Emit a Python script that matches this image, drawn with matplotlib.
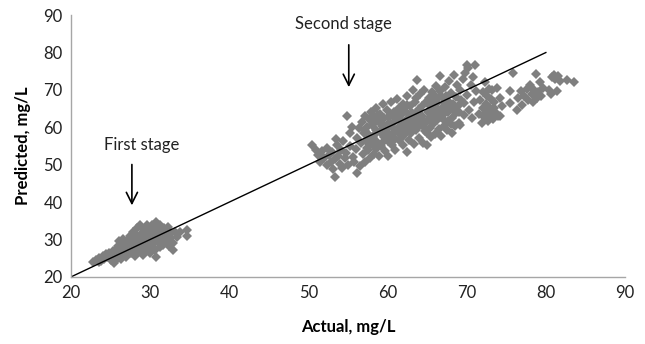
import matplotlib
matplotlib.use('Agg')
import matplotlib.pyplot as plt

plt.rcParams['font.family'] = ['Lato', 'DejaVu Sans']

# first stage points (actual, predicted)
first_x = [22.8, 23.2, 23.5, 23.8, 24.0, 23.6, 24.2, 24.4,
           24.6, 24.8, 25.0, 25.2, 25.3, 25.5, 25.6, 25.8, 25.9, 26.0, 26.1, 26.2,
           26.3, 26.5, 26.6, 26.7, 26.9, 27.0, 27.1, 27.2, 27.4, 27.5, 27.6, 27.7, 27.8, 27.9, 28.0, 28.1,
           28.2, 28.3, 28.4, 28.5, 28.6, 28.7, 28.8, 28.9, 29.0, 29.1, 29.2, 29.3, 29.4, 29.5, 29.6, 29.7,
           29.8, 29.9, 30.0, 30.0,
           30.2, 30.3, 30.4, 30.5, 30.6, 30.7, 30.8, 30.9, 31.0, 31.1, 31.2, 31.3, 31.4, 31.5, 31.6, 31.7,
           31.8, 31.9, 32.0,
           32.1, 32.3, 32.4, 32.5, 32.7, 32.9, 33.1, 33.4, 33.8, 34.6, 34.6, 32.9, 30.8,
           24.3, 24.9, 25.4, 25.7, 26.4, 26.8, 27.3, 27.8, 28.3, 28.8, 29.3, 29.8, 30.3, 30.8, 31.3,
           31.8, 26.0, 26.9, 27.6, 28.5, 29.0, 29.6, 30.1, 30.6, 31.2, 31.7, 32.2, 25.1, 27.0, 28.0]
first_y = [24.1, 24.5, 25.0, 24.3, 25.6, 23.9, 24.8, 26.0,
           25.2, 26.5, 24.4, 25.8, 27.0, 23.8, 26.2, 27.5, 25.0, 28.3, 29.6, 26.8,
           24.9, 27.9, 30.2, 26.0, 28.8, 25.3, 29.5, 27.2, 31.0, 28.1, 26.3, 30.3, 32.0, 27.5, 29.0, 25.6,
           31.2, 33.0, 28.3, 26.8, 30.0, 33.9, 29.3, 27.4, 31.8, 25.9, 32.6, 28.6, 30.6, 27.0, 33.9, 29.7,
           31.4, 28.0, 32.8, 26.4,
           30.2, 34.0, 28.9, 31.7, 27.3, 33.2, 34.8, 29.6, 30.9, 32.4, 27.9, 33.8, 29.0, 31.6, 28.5, 33.1,
           30.3, 32.0, 29.3,
           31.1, 33.4, 28.2, 30.5, 31.7, 29.0, 32.1, 30.8, 32.1, 32.6, 31.0, 27.2, 25.4,
           25.3, 25.7, 26.4, 25.5, 27.0, 27.4, 28.0, 28.8, 29.6, 30.5, 31.3, 30.6, 31.9, 32.3, 31.0,
           31.0, 26.1, 26.6, 29.2, 27.8, 28.6, 29.0, 29.2, 30.0, 29.7, 30.0, 30.2, 24.8, 28.1, 30.5]

# second stage points (actual, predicted)
second_x = [50.4, 50.9, 51.2, 51.5, 51.7, 52.0, 52.3, 52.4, 52.6, 52.8, 53.0, 53.1, 53.3, 53.4, 53.5,
            53.6, 53.8, 54.0, 54.1, 54.3, 54.4, 54.6, 54.8, 54.9, 55.0, 55.2, 55.3, 55.5, 55.6, 55.8,
            56.0, 56.1, 56.2, 56.4, 56.5,
            56.7, 56.8, 56.9, 57.0, 57.1, 57.2, 57.3, 57.4, 57.5, 57.6, 57.7, 57.8, 57.9, 58.0, 58.1,
            58.2, 58.3, 58.4, 58.5, 58.6, 58.7, 58.8, 58.9, 59.0, 59.1, 59.2, 59.3, 59.4, 59.5, 59.6,
            59.7, 59.8, 59.9, 60.0, 60.0, 60.1, 60.2, 60.3, 60.4, 60.5, 60.6, 60.7, 60.8, 60.9, 61.0,
            61.1, 61.2, 61.3, 61.4, 61.5, 61.6, 61.7, 61.8, 61.9, 62.0, 62.0,
            62.1, 62.2, 62.3, 62.4, 62.5, 62.6, 62.7, 62.8, 62.9, 63.0, 63.1, 63.2, 63.3, 63.4, 63.5,
            63.6, 63.7, 63.8, 63.9, 64.0, 64.1, 64.2, 64.3, 64.4, 64.5, 64.6, 64.7, 64.8, 64.9, 65.0,
            65.1, 65.2, 65.3, 65.4, 65.5, 65.6, 65.7, 65.8, 65.9, 66.0, 66.1, 66.2, 66.3, 66.4, 66.5,
            66.6, 66.7, 66.8, 66.9, 67.0, 67.1, 67.2, 67.3, 67.5, 67.6, 67.7, 67.8, 67.9, 68.0, 68.1,
            68.2, 68.3, 68.4, 68.5, 68.6, 68.7, 68.8, 68.9, 69.0, 69.2, 69.2, 69.3, 69.5, 69.6, 69.7,
            69.8, 70.0, 70.1, 70.2, 70.3, 70.5, 70.7, 70.8, 70.9, 71.1, 71.2,
            71.6, 71.7, 71.9, 72.0, 72.1, 72.2, 72.3, 72.4, 72.5, 72.6, 72.7, 72.8, 72.9, 73.0, 73.1,
            73.2, 73.3, 73.4, 73.5, 73.6, 73.8, 73.9, 74.2, 74.2, 74.5,
            75.5, 75.5, 75.9, 76.3, 76.5, 76.8, 77.0, 77.3, 77.6, 77.8, 78.0, 78.2, 78.4, 78.5, 78.7,
            78.9, 79.0, 79.2, 79.4, 79.7, 80.4, 80.6, 80.8, 81.0, 81.2, 81.4, 81.5, 81.8, 82.7, 83.5,
            57.2, 57.6, 58.0, 58.4, 58.8, 59.2, 59.6, 60.0, 60.4, 60.8, 61.2, 61.6, 62.0, 62.4, 62.8,
            63.2, 63.6, 64.0, 64.4, 64.8, 65.2, 65.6, 66.0, 66.4, 66.8, 67.2, 67.6, 68.0,
            57.4, 57.9, 58.6, 59.0, 59.4, 59.8, 60.2, 60.6, 61.0, 61.4, 61.8, 62.2, 62.6, 63.0, 63.4,
            63.8, 64.2, 64.6, 65.0, 65.4, 65.8, 66.2, 66.6, 67.0, 67.4, 67.8, 68.4, 69.0]
second_y = [55.3, 54.0, 52.5, 50.8, 53.6, 51.7, 49.9, 54.5, 52.6, 50.6, 53.4, 48.9, 51.4, 46.8, 57.0,
            55.2, 52.4, 50.1, 54.0, 49.0, 56.4, 51.8, 53.2, 62.9, 49.8, 58.5, 55.0, 60.0, 52.0, 50.6,
            54.2, 47.7, 57.2, 59.8, 49.6,
            55.8, 61.5, 52.9, 58.6, 63.0, 50.8, 56.4, 60.2, 53.9, 62.1, 58.0, 51.9, 64.2, 55.5, 60.9,
            57.3, 53.0, 62.8, 59.4, 65.3, 56.2, 61.6, 52.4, 58.7, 63.6, 55.0, 60.3, 66.2, 57.4, 62.4,
            53.8, 59.6, 64.7, 56.3, 61.0, 52.2, 58.2, 63.1, 66.8, 55.2, 60.0, 57.3, 64.0, 61.7, 54.0,
            59.1, 67.5, 62.6, 56.5, 65.2, 60.4, 58.0, 63.5, 55.4, 66.3, 61.4,
            57.9, 64.4, 59.9, 53.5, 68.4, 62.5, 56.6, 65.6, 60.8, 58.5, 63.7, 70.0, 61.8, 55.6, 66.7,
            59.3, 72.7, 64.5, 62.3, 57.2, 68.8, 60.5, 65.6, 63.0, 55.8, 70.1, 58.9, 66.9, 61.5, 55.3,
            64.1, 67.9, 59.9, 62.8, 57.4, 69.4, 65.2, 60.9, 63.6, 58.3, 71.0, 66.5, 61.9, 64.6, 59.5,
            73.6, 62.8, 57.6, 68.2, 65.4, 60.4, 70.7, 63.7, 59.3, 67.0, 61.8, 72.3, 64.9, 69.3, 58.6,
            62.6, 66.2, 74.1, 60.3, 68.0, 63.9, 71.2, 65.7, 61.2, 60.6, 70.0, 67.3, 72.8, 66.5, 63.2,
            74.6, 76.7, 68.6, 75.8, 64.6, 71.2, 62.4, 73.4, 66.9, 76.7, 69.8,
            63.5, 67.4, 61.1, 65.3, 69.5, 62.7, 72.2, 66.3, 64.0, 68.4, 61.8, 70.3, 65.1, 63.1, 67.6,
            69.9, 62.3, 65.2, 66.8, 64.1, 70.6, 62.9, 67.9, 62.9, 65.6,
            69.6, 66.5, 74.5, 64.7, 67.8, 69.6, 66.0, 68.5, 70.3, 67.2, 71.3, 68.9, 66.8, 70.0, 74.3,
            67.8, 69.4, 72.0, 68.4, 70.6, 70.0, 68.8, 73.4, 74.0, 72.9, 69.8, 73.6, 72.5, 72.7, 72.0,
            59.0, 57.2, 60.5, 58.3, 63.2, 61.4, 59.1, 62.7, 60.9, 58.7, 63.9, 61.9, 59.8, 66.0, 63.4,
            60.1, 67.8, 65.0, 61.6, 59.6, 65.9, 62.0, 68.5, 67.8, 64.2, 66.5, 64.2, 61.0,
            54.5, 56.8, 54.2, 61.9, 56.2, 57.8, 60.7, 63.2, 56.9, 59.6, 57.3, 61.0, 58.9, 61.4, 63.6,
            60.3, 62.4, 61.0, 58.4, 64.0, 67.0, 63.1, 69.8, 62.2, 68.4, 66.0, 64.9, 64.1]

# 1:1 reference line
line_x = [20, 80]
line_y = [20, 80]

x_ticks = [20, 30, 40, 50, 60, 70, 80, 90]
y_ticks = [20, 30, 40, 50, 60, 70, 80, 90]

fig = plt.figure(figsize=(6.45, 3.44), dpi=100)
ax = fig.add_axes([0.110, 0.195, 0.859, 0.761])

grey = '#7f7f7f'
ax.plot(first_x, first_y, linestyle='none', marker='D', markersize=5.0,
        color=grey, markeredgewidth=0)
ax.plot(second_x, second_y, linestyle='none', marker='D', markersize=5.0,
        color=grey, markeredgewidth=0)
ax.plot(line_x, line_y, color='black', linewidth=1.0)

ax.set_xlim(20, 90)
ax.set_ylim(20, 90)
ax.set_xticks(x_ticks)
ax.set_yticks(y_ticks)
ax.tick_params(length=0, labelsize=12, colors='#222222', pad=6)

for side in ['top', 'right']:
    ax.spines[side].set_visible(False)
for side in ['left', 'bottom']:
    ax.spines[side].set_color('#a6a6a6')
    ax.spines[side].set_linewidth(1.0)

ax.set_xlabel('Actual, mg/L', fontsize=12, fontweight='bold', labelpad=13)
ax.set_ylabel('Predicted, mg/L', fontsize=12, fontweight='bold', labelpad=9)

arrow = dict(arrowstyle='->,head_length=0.8,head_width=0.4', color='black', lw=1.2)
ax.annotate('', xy=(27.7, 38.4), xytext=(27.7, 50.8), arrowprops=arrow)
ax.text(29.0, 55.3, 'First stage', fontsize=12, ha='center', va='center', color='#222222')
ax.annotate('', xy=(55.1, 70.0), xytext=(55.1, 82.8), arrowprops=arrow)
ax.text(54.4, 87.6, 'Second stage', fontsize=12, ha='center', va='center', color='#222222')

fig.savefig('out.png', dpi=100)
